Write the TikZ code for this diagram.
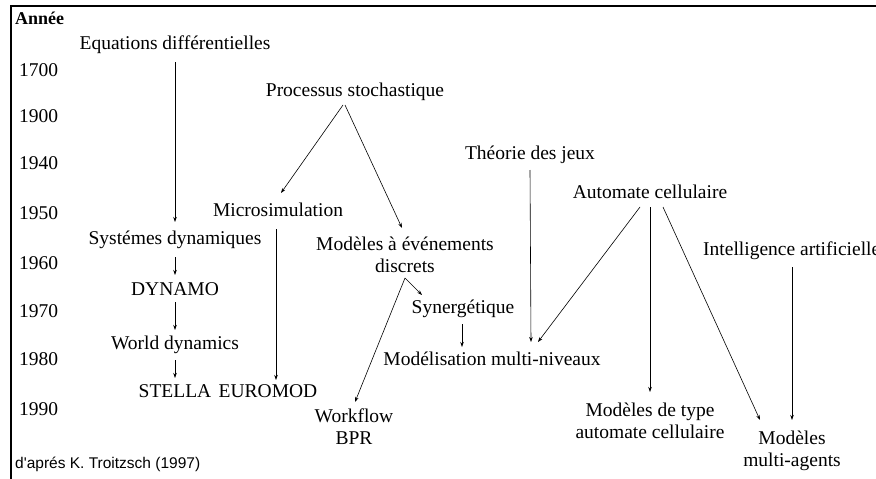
\documentclass[tikz,border=0pt]{standalone}
\usepackage{fontspec}
\setmainfont{Liberation Serif}
\newfontfamily\arialfont{Liberation Sans}
\usetikzlibrary{arrows.meta,calc}
\begin{document}
\begin{tikzpicture}[x=1pt,y=-1pt,
  lbl/.style={inner sep=1pt,font=\fontsize{19.5}{22}\selectfont,align=center},
  yr/.style={lbl,anchor=west},
  arr/.style={-{Stealth[length=5pt,width=3.5pt]},line width=0.6pt},
  frame/.style={line width=2pt}]
\useasboundingbox (0,0) rectangle (876,479);
\draw[frame] (876,5.5) -- (10.5,5.5) -- (10.5,479);
\node[lbl,anchor=west,font=\fontsize{18}{20}\selectfont\bfseries] (annee) at (14,18) {Année};
\node[yr] (y1700) at (18,70) {1700};
\node[yr] (y1900) at (18,116) {1900};
\node[yr] (y1940) at (18,163) {1940};
\node[yr] (y1950) at (18,213) {1950};
\node[yr] (y1960) at (18,263) {1960};
\node[yr] (y1970) at (18,311) {1970};
\node[yr] (y1980) at (18,359) {1980};
\node[yr] (y1990) at (18,409) {1990};
\node[lbl,anchor=west,font=\arialfont\fontsize{15.5}{18}\selectfont] (src) at (14,464) {d'aprés K. Troitzsch (1997)};

\node[lbl] (eq) at (175,45) {Equations différentielles};
\node[lbl] (proc) at (355,92) {Processus stochastique};
\node[lbl] (theo) at (530,155) {Théorie des jeux};
\node[lbl] (auto) at (650,192) {Automate cellulaire};
\node[lbl] (micro) at (278,210) {Microsimulation};
\node[lbl] (sysd) at (175,240) {Systémes dynamiques};
\node[lbl] (mev) at (405,255) {Modèles à événements\\discrets};
\node[lbl,anchor=west] (ia) at (702,251) {Intelligence artificielle};
\node[lbl] (dyn) at (175,289) {DYNAMO};
\node[lbl] (syn) at (463,309) {Synergétique};
\node[lbl] (wd) at (175,345) {World dynamics};
\node[lbl] (mmn) at (492,359) {Modélisation multi-niveaux};
\node[lbl] (stella) at (175,391) {STELLA};
\node[lbl] (euro) at (268,391) {EUROMOD};
\node[lbl] (wf) at (354,427) {Workflow\\BPR};
\node[lbl] (mac) at (650,421) {Modèles de type\\automate cellulaire};
\node[lbl] (mma) at (792,451) {Modèles\\multi-agents};

\draw[arr] ($(eq)+(0,17)$) -- ($(sysd)+(0,-18)$);
\draw[arr] ($(sysd)+(0,17)$) -- ($(dyn)+(0,-14)$);
\draw[arr] ($(dyn)+(0,13)$) -- ($(wd)+(0,-15)$);
\draw[arr] ($(wd)+(0,15)$) -- ($(stella)+(0,-13)$);
\draw[arr] ($(proc)+(-12,13)$) -- ($(micro)+(3,-17)$);
\draw[arr] ($(proc)+(-10,13)$) -- ($(mev)+(-3,-27)$);
\draw[arr] ($(micro)+(-2,19)$) -- ($(euro)+(8,-11)$);
\draw[arr] ($(mev)+(0,23)$) -- ($(syn)+(-41,-14)$);
\draw[arr] ($(mev)+(0,23)$) -- ($(wf)+(1,-25)$);
\draw[arr] ($(syn)+(-1,15)$) -- ($(mmn)+(-30,-12)$);
\draw[arr] ($(theo)+(0,15)$) -- ($(mmn)+(39,-17)$);
\draw[arr] ($(auto)+(-10,15)$) -- ($(mmn)+(46,-17)$);
\draw[arr] ($(auto)+(0,15)$) -- ($(mac)+(0,-29)$);
\draw[arr] ($(auto)+(13,15)$) -- ($(mma)+(-32,-31)$);
\draw[arr] ($(ia.west)+(90,16)$) -- ($(mma)+(0,-31)$);
\end{tikzpicture}
\end{document}
